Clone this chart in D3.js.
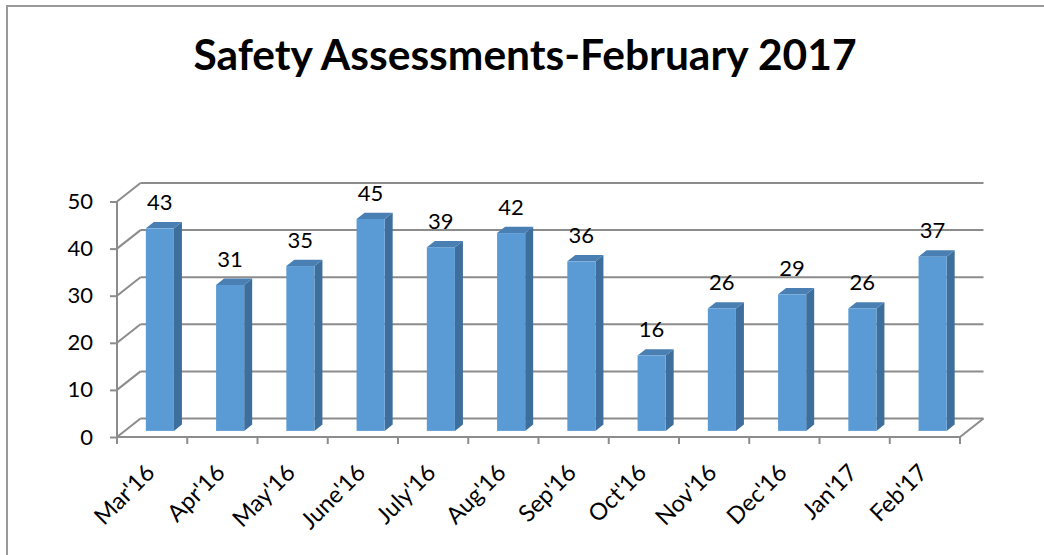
<!DOCTYPE html>
<html>
<head>
<meta charset="utf-8">
<script src="https://cdn.jsdelivr.net/npm/d3@7"></script>
<style>
  html, body { margin: 0; padding: 0; background: #fff; }
  svg { display: block; }
</style>
</head>
<body>
<div id="chart"></div>
<script>
const months = ["Mar'16", "Apr'16", "May'16", "June'16", "July'16", "Aug'16",
  "Sep'16", "Oct'16", "Nov'16", "Dec'16", "Jan'17", "Feb'17"]
const assessments = [43, 31, 35, 45, 39, 42, 36, 16, 26, 29, 26, 37]
const yTicks = [0, 10, 20, 30, 40, 50]
const titleText = 'Safety Assessments-February 2017'

var chart_width  = 1044;
var chart_height = 555;
var font = 'Lato, "Open Sans", sans-serif';

// depth of the 3d box and the share the bars take up
const DX = 23.5, DY = -18.5;
const f0 = 0.33, f1 = 0.67;

var svg = d3.select('#chart')
  .append('svg')
  .attr('width', chart_width)
  .attr('height', chart_height);

// outer frame
svg.append('rect')
  .attr('x', 7).attr('y', 6)
  .attr('width', 1200).attr('height', 700)
  .attr('fill', 'none')
  .attr('stroke', '#9a9a9a')
  .attr('stroke-width', 2);

svg.append('text')
  .text(titleText)
  .attr('x', 525)
  .attr('y', 70)
  .attr('text-anchor', 'middle')
  .attr('font-family', font)
  .attr('font-weight', 'bold')
  .attr('font-size', 42.5)
  .attr('fill', '#000');

const x_scale = d3.scaleBand()
  .domain(months)
  .range([117, 960])
  .padding(0);

const y_scale = d3.scaleLinear()
  .domain([0, 50])
  .range([437, 201.5]);

const x0 = x_scale.range()[0], x1 = x_scale.range()[1];
const grid = svg.append('g')
  .attr('stroke', '#8c8c8c')
  .attr('stroke-width', 2)
  .attr('fill', 'none');

// back wall lines + side wall diagonals
yTicks.forEach(t => {
  const y = y_scale(t);
  grid.append('line')
    .attr('x1', x0 + DX).attr('y1', y + DY)
    .attr('x2', x1 + DX).attr('y2', y + DY);
  grid.append('line')
    .attr('x1', x0).attr('y1', y)
    .attr('x2', x0 + DX).attr('y2', y + DY);
});
// floor front edge and right diagonal
grid.append('line')
  .attr('x1', x0).attr('y1', y_scale(0))
  .attr('x2', x1).attr('y2', y_scale(0));
grid.append('line')
  .attr('x1', x1).attr('y1', y_scale(0))
  .attr('x2', x1 + DX).attr('y2', y_scale(0) + DY);

// bars
const barW = x_scale.bandwidth() / 2.5;
const bars = svg.append('g').selectAll('g')
  .data(assessments)
  .enter()
  .append('g');

function px(i, off, f) { return x_scale(months[i]) + (x_scale.bandwidth() - barW) / 2 + off + f * DX; }
function py(v, f) { return y_scale(v) + f * DY; }

// side face
bars.append('path')
  .attr('fill', '#3d6e9c')
  .attr('d', (d, i) => {
    const pts = [[px(i, barW, f0), py(0, f0)], [px(i, barW, f1), py(0, f1)],
      [px(i, barW, f1), py(d, f1)], [px(i, barW, f0), py(d, f0)]];
    return 'M' + pts.join('L') + 'Z';
  });
// top face
bars.append('path')
  .attr('fill', '#4a7fb3')
  .attr('d', (d, i) => {
    const pts = [[px(i, 0, f0), py(d, f0)], [px(i, barW, f0), py(d, f0)],
      [px(i, barW, f1), py(d, f1)], [px(i, 0, f1), py(d, f1)]];
    return 'M' + pts.join('L') + 'Z';
  });
// front face
bars.append('rect')
  .attr('fill', '#5b9bd5')
  .attr('x', (d, i) => px(i, 0, f0))
  .attr('y', d => py(d, f0))
  .attr('width', barW)
  .attr('height', d => py(0, f0) - py(d, f0));

// value labels
svg.append('g').selectAll('text')
  .data(assessments)
  .enter()
  .append('text')
  .text(d => d)
  .attr('x', (d, i) => px(i, barW / 2, f0))
  .attr('y', d => py(d, f1) - 12)
  .attr('text-anchor', 'middle')
  .attr('font-family', font)
  .attr('font-size', 22)
  .attr('fill', '#000');

// y axis
const yAxis = svg.append('g')
  .attr('transform', 'translate(' + x0 + ',0)')
  .call(d3.axisLeft(y_scale).tickValues(yTicks).tickSize(7).tickPadding(17));
yAxis.select('.domain').attr('stroke', '#8c8c8c').attr('stroke-width', 2)
  .attr('d', 'M0,' + y_scale(50) + 'V' + y_scale(0));
yAxis.selectAll('.tick line').attr('stroke', '#8c8c8c').attr('stroke-width', 2);
yAxis.selectAll('.tick text')
  .attr('font-family', font)
  .attr('font-size', 22)
  .attr('fill', '#000');

// x axis ticks at category boundaries
svg.append('g').selectAll('line')
  .data(d3.range(months.length + 1))
  .enter()
  .append('line')
  .attr('x1', i => x0 + i * x_scale.step())
  .attr('x2', i => x0 + i * x_scale.step())
  .attr('y1', y_scale(0))
  .attr('y2', y_scale(0) + 7)
  .attr('stroke', '#8c8c8c')
  .attr('stroke-width', 2);

svg.append('g').selectAll('text')
  .data(months)
  .enter()
  .append('text')
  .text(d => d)
  .attr('transform', d => 'translate(' + (x_scale(d) + x_scale.bandwidth() / 2 + 4) + ',474) rotate(-45)')
  .attr('text-anchor', 'end')
  .attr('font-family', font)
  .attr('font-size', 23.5)
  .attr('fill', '#000');
</script>
</body>
</html>
